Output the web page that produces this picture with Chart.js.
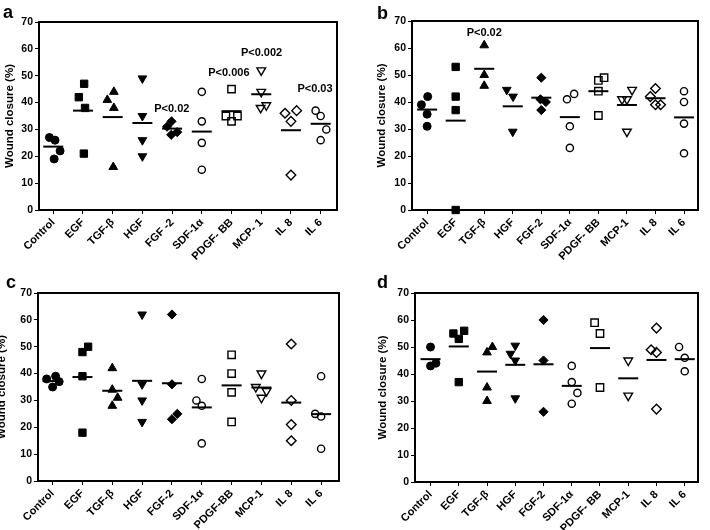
<!DOCTYPE html>
<html>
<head>
<meta charset="utf-8">
<script src="https://cdn.jsdelivr.net/npm/chart.js@4.4.1/dist/chart.umd.min.js"></script>
<style>
  html, body { margin: 0; padding: 0; background: #fff; }
  body { width: 710px; height: 530px; position: relative; overflow: hidden; }
  canvas { position: absolute; }
</style>
</head>
<body>
<canvas id="ca"></canvas>
<canvas id="cb"></canvas>
<canvas id="cc"></canvas>
<canvas id="cd"></canvas>
<script>
// ---------- DATA ----------
const labelsA = ['Control', 'EGF', 'TGF-β', 'HGF', 'FGF -2', 'SDF-1α', 'PDGF- BB', 'MCP- 1', 'IL 8', 'IL 6'];
const labelsB = ['Control', 'EGF', 'TGF-β', 'HGF', 'FGF-2', 'SDF-1α', 'PDGF- BB', 'MCP-1', 'IL 8', 'IL 6'];
const labelsC = ['Control', 'EGF', 'TGF-β', 'HGF', 'FGF-2', 'SDF-1α', 'PDGF-BB', 'MCP-1', 'IL 8', 'IL 6'];
const labelsD = ['Control', 'EGF', 'TGF-β', 'HGF', 'FGF-2', 'SDF-1α', 'PDGF- BB', 'MCP-1', 'IL 8', 'IL 6'];
const yTicks = [0, 10, 20, 30, 40, 50, 60, 70];

const valuesA = [[27, 26, 22, 19], [42, 47, 38, 21], [41, 44, 38, 16], [49, 35, 26, 20], [31, 33, 28, 29],
                 [44, 33, 25, 15], [45, 35, 33, 35], [52, 44, 38, 39], [36, 33, 37, 13], [37, 35, 30, 26]];
const jitterA = [[-0.13, 0.06, 0.23, 0.03], [-0.14, 0.04, 0.07, 0.03], [-0.18, 0.04, 0.04, 0.02], [0, 0, 0, 0], [-0.17, -0.02, -0.03, 0.17],
                 [0, 0, 0, 0], [0, -0.19, 0, 0.2], [0, 0, -0.02, 0.17], [-0.2, 0, 0.19, 0], [-0.17, 0, 0.19, 0]];
const meansA = [23.6, 37, 34.6, 32.4, 30.3, 29.2, 36.8, 43.1, 29.7, 32.1];
const pTextA = ['P<0.02', 'P<0.006', 'P<0.002', 'P<0.03'];
const pCatA = [3.99, 5.91, 7.01, 8.81];
const pValA = [37.5, 50.9, 58.6, 44.9];

const valuesB = [[39, 42, 35.5, 31], [53, 42, 37, 0], [61, 50, 46], [44.5, 42, 29], [49, 41, 40, 37],
                 [41, 43, 31, 23], [48, 49, 44, 35], [41, 41, 44.5, 29], [45, 42, 39, 39], [44, 40, 32, 21]];
const jitterB = [[-0.2, 0.02, 0, 0], [0, 0, 0, 0], [0, 0, 0], [-0.21, 0.01, 0], [0, -0.03, 0.16, 0],
                 [-0.1, 0.15, 0, 0], [0, 0.2, 0, 0], [-0.17, 0, 0.18, 0], [0, -0.18, 0, 0.18], [0, 0, 0, 0]];
const meansB = [37.2, 33.1, 52.3, 38.4, 41.6, 34.4, 44, 38.9, 41.4, 34.3];
const pTextB = ['P<0.02'];
const pCatB = [2];
const pValB = [65.4];

const valuesC = [[38, 39, 37, 35], [48, 50, 39, 18], [42, 34, 31, 28], [62, 36, 30, 22], [62, 36, 23, 25],
                 [38, 30, 28, 14], [47, 40, 33, 22], [40, 35, 33.5, 31], [51, 30, 21, 15], [39, 25, 24, 12]];
const jitterC = [[-0.2, 0.1, 0.22, 0], [0, 0.19, 0, 0], [0, 0, 0.18, 0], [0, 0, 0, 0], [0, 0, 0, 0.18],
                 [0, -0.18, 0, 0], [0, 0, 0, 0], [0, -0.19, 0.17, 0], [0, 0, 0, 0], [0, -0.2, 0, 0]];
const meansC = [37.2, 38.7, 33.6, 37.3, 36.4, 27.4, 35.6, 34.8, 29.2, 24.9];

const valuesD = [[50, 43, 44], [55, 53, 56, 37], [48, 50, 35, 30], [50.5, 47.5, 45, 31], [60, 45, 26],
                 [43, 37, 33, 29], [59, 55, 35], [45, 32], [57, 49, 48, 27], [50, 46, 41]];
const jitterD = [[0, 0, 0.19], [-0.19, 0, 0.19, 0], [0, 0.19, 0, 0], [0, -0.17, 0, 0], [0, 0, 0],
                 [0, 0, 0.2, 0], [-0.19, 0, 0], [0, 0], [0, -0.19, 0, 0], [-0.2, 0, 0]];
const meansD = [45.5, 50.2, 40.9, 43.4, 43.6, 35.6, 49.6, 38.4, 45.2, 45.5];

// ---------- STYLE ----------
const FONT = "'Liberation Sans', Arial, sans-serif";
Chart.defaults.font.family = FONT;
Chart.defaults.color = '#000';

const markers = [
  { style: 'circle', r: 4, fill: true },
  { style: 'rect', r: 5.2, fill: true },
  { style: 'triangle', r: 5, fill: true },
  { style: 'triangle', r: 5, fill: true, rot: 180 },
  { style: 'rectRot', r: 4.6, fill: true },
  { style: 'circle', r: 3.6, fill: false },
  { style: 'rect', r: 5.2, fill: false },
  { style: 'triangle', r: 5, fill: false, rot: 180 },
  { style: 'rectRot', r: 4.8, fill: false },
  { style: 'circle', r: 3.6, fill: false }
];

const decor = {
  id: 'decor',
  beforeDatasetsDraw(chart, args, o) {
    const { ctx, chartArea: a } = chart;
    ctx.save();
    ctx.lineWidth = 2;
    ctx.strokeStyle = '#000';
    ctx.strokeRect(a.left, a.top, a.right - a.left, a.bottom - a.top);
    ctx.restore();
  },
  afterDatasetsDraw(chart, args, o) {
    const { ctx, scales: { x, y } } = chart;
    ctx.save();
    ctx.fillStyle = '#000';
    ctx.textAlign = 'center';
    ctx.textBaseline = 'middle';
    ctx.font = 'bold 11px ' + FONT;
    (o.pText || []).forEach((t, i) => {
      ctx.fillText(t, x.getPixelForValue(o.pCat[i]), y.getPixelForValue(o.pVal[i]));
    });
    ctx.font = 'bold 18px ' + FONT;
    ctx.textAlign = 'left';
    ctx.textBaseline = 'alphabetic';
    ctx.fillText(o.letter, o.lx, o.ly);
    ctx.restore();
  }
};

function makeChart(id, p) {
  const cv = document.getElementById(id);
  cv.width = p.canvas.w; cv.height = p.canvas.h;
  cv.style.left = p.canvas.x + 'px'; cv.style.top = p.canvas.y + 'px';
  cv.style.width = p.canvas.w + 'px'; cv.style.height = p.canvas.h + 'px';
  const loc = {
    l: p.area.l - p.canvas.x, r: p.area.r - p.canvas.x,
    t: p.area.t - p.canvas.y, b: p.area.b - p.canvas.y
  };
  const padLeft = p.titleX - p.canvas.x - 6.6;
  const yWidth = loc.l - padLeft;
  const xHeight = p.canvas.h - loc.b;

  const datasets = [{
    data: p.means.map((m, i) => ({ x: i, y: m })),
    pointStyle: 'line', radius: 10, borderWidth: 2, borderColor: '#000',
    backgroundColor: '#000', showLine: false, clip: false
  }];
  p.values.forEach((vals, i) => {
    const mk = markers[i];
    datasets.push({
      data: vals.map((v, j) => ({ x: i + p.jitter[i][j], y: v })),
      pointStyle: mk.style, rotation: mk.rot || 0, radius: mk.r,
      backgroundColor: mk.fill ? '#000' : 'rgba(0,0,0,0)',
      borderColor: '#000', borderWidth: mk.fill ? 1 : 1.4,
      showLine: false, clip: false
    });
  });

  return new Chart(cv, {
    type: 'scatter',
    data: { datasets },
    plugins: [decor],
    options: {
      responsive: false, animation: false, devicePixelRatio: 1, events: [],
      layout: { padding: { left: padLeft, top: loc.t, right: p.canvas.w - loc.r, bottom: 0 } },
      plugins: {
        legend: { display: false }, tooltip: { enabled: false },
        decor: { pText: p.pText, pCat: p.pCat, pVal: p.pVal, letter: p.letter,
                 lx: p.letterPos[0] - p.canvas.x, ly: p.letterPos[1] - p.canvas.y }
      },
      scales: {
        x: {
          type: 'linear', min: p.xmin, max: p.xmax,
          afterBuildTicks: s => { s.ticks = p.labels.map((_, i) => ({ value: i })); },
          afterFit: s => { s.height = xHeight; s.paddingLeft = 0; s.paddingRight = 0; },
          ticks: {
            autoSkip: false, minRotation: 45, maxRotation: 45, padding: 2, color: '#000',
            font: { weight: 'bold', size: 11 },
            callback: v => p.labels[v]
          },
          grid: { drawOnChartArea: false, drawTicks: true, tickLength: 4, color: '#000', lineWidth: 1 },
          border: { display: false }
        },
        y: {
          type: 'linear', min: 0, max: 70,
          afterBuildTicks: s => { s.ticks = yTicks.map(v => ({ value: v })); },
          afterFit: s => { s.width = yWidth; s.paddingTop = 0; s.paddingBottom = 0; },
          ticks: { padding: 2, color: '#000', font: { weight: 'bold', size: 10.5 } },
          grid: { drawOnChartArea: false, drawTicks: true, tickLength: 4, color: '#000', lineWidth: 1 },
          border: { display: false },
          title: { display: true, text: 'Wound closure (%)', color: '#000', padding: 0,
                   font: { weight: 'bold', size: 11.5 } }
        }
      }
    }
  });
}

makeChart('ca', {
  canvas: { x: 0, y: 0, w: 355, h: 265 }, area: { l: 39, t: 22, r: 337, b: 210 }, titleX: 10,
  xmin: -0.48, xmax: 9.55, labels: labelsA, values: valuesA, jitter: jitterA, means: meansA,
  pText: pTextA, pCat: pCatA, pVal: pValA, letter: 'a', letterPos: [3, 18]
});
makeChart('cb', {
  canvas: { x: 355, y: 0, w: 355, h: 265 }, area: { l: 412, t: 21, r: 707, b: 210 }, titleX: 382,
  xmin: -0.53, xmax: 9.49, labels: labelsB, values: valuesB, jitter: jitterB, means: meansB,
  pText: pTextB, pCat: pCatB, pVal: pValB, letter: 'b', letterPos: [377, 18.5]
});
makeChart('cc', {
  canvas: { x: -6, y: 265, w: 361, h: 265 }, area: { l: 38, t: 293, r: 339, b: 481 }, titleX: 2,
  xmin: -0.49, xmax: 9.6, labels: labelsC, values: valuesC, jitter: jitterC, means: meansC,
  pText: [], pCat: [], pVal: [], letter: 'c', letterPos: [6, 288]
});
makeChart('cd', {
  canvas: { x: 355, y: 265, w: 355, h: 265 }, area: { l: 415, t: 293, r: 708, b: 482 }, titleX: 383,
  xmin: -0.55, xmax: 9.47, labels: labelsD, values: valuesD, jitter: jitterD, means: meansD,
  pText: [], pCat: [], pVal: [], letter: 'd', letterPos: [377, 288]
});
</script>
</body>
</html>
